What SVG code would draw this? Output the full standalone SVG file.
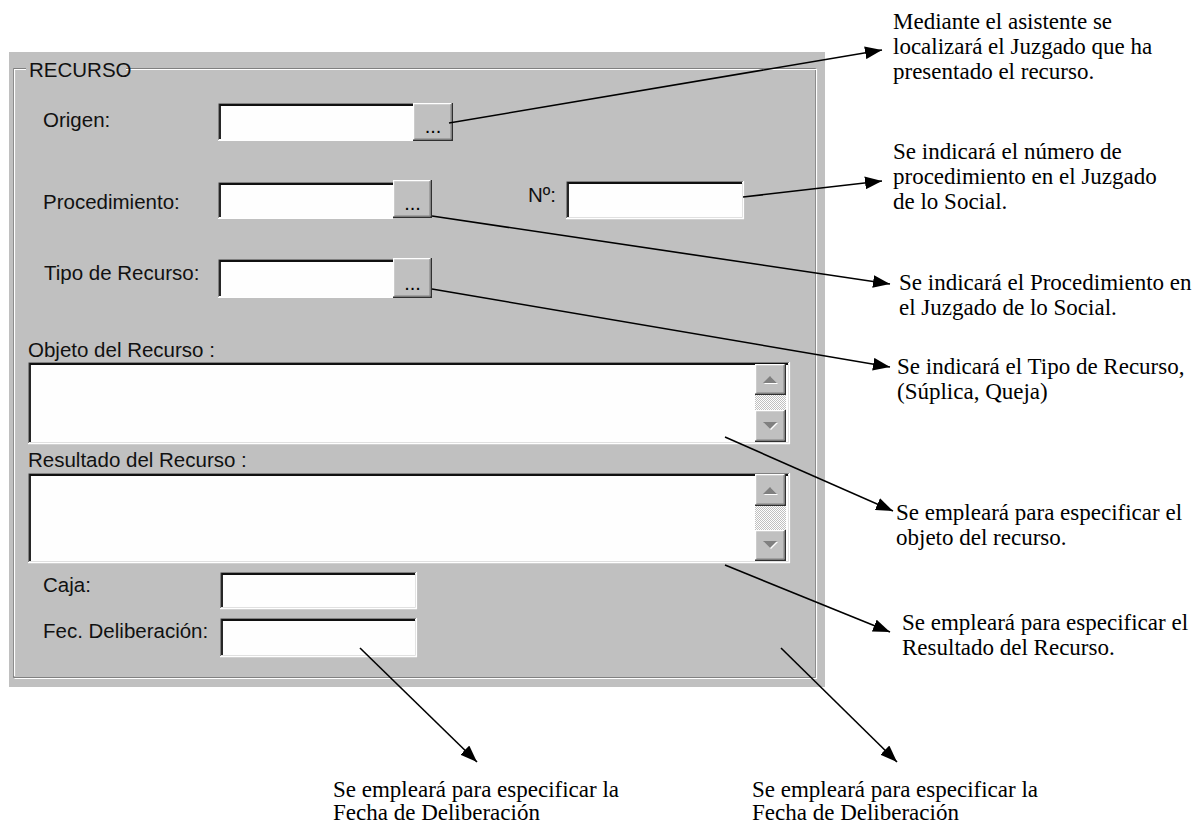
<svg xmlns="http://www.w3.org/2000/svg" width="1203" height="826" viewBox="0 0 1203 826">
<defs>
<style>
.ui{font-family:"Liberation Sans",Arial,sans-serif;font-size:20.5px;fill:#111}
.an{font-family:"Liberation Serif","Times New Roman",serif;font-size:23px;fill:#000}
.dots{font-family:"Liberation Sans",Arial,sans-serif;font-size:20px;fill:#000;text-anchor:middle}
.fld{fill:#fefefe}
.g{fill:none;stroke:#808080;stroke-width:1}
.k{fill:none;stroke:#101010;stroke-width:1.8}
.w{fill:none;stroke:#ffffff;stroke-width:1.2}
.lg{fill:none;stroke:#e0e0e0;stroke-width:1}
.btn{fill:#c0c0c0}
.bk{fill:none;stroke:#303030;stroke-width:1.4}
.conn{fill:none;stroke:#000;stroke-width:1.6}
.tri{fill:#808080}
.triw{fill:#ffffff}
</style>
<marker id="ah" viewBox="0 0 16 12" refX="16" refY="6" markerWidth="17" markerHeight="13" markerUnits="userSpaceOnUse" orient="auto">
<path d="M0,0 L16,6 L0,12 z" fill="#000"/>
</marker>
<pattern id="dith" width="2" height="2" patternUnits="userSpaceOnUse">
<rect width="2" height="2" fill="#ffffff"/>
<rect width="1" height="1" fill="#c0c0c0"/>
<rect x="1" y="1" width="1" height="1" fill="#c0c0c0"/>
</pattern>
</defs>
<rect width="1203" height="826" fill="#ffffff"/>

<g id="panel">
<rect x="9" y="52" width="816" height="635" fill="#c0c0c0"/>
<path class="g" d="M26,68.5 H13.5 V677.5 H815.5 V68.5 H126"/>
<path class="w" d="M26,69.5 H14.5 V676 M14.5,678.5 H816.5 V69.5 H126"/>
<text class="ui" x="29" y="77">RECURSO</text>
</g>

<g id="origen">
<text class="ui" x="43" y="127">Origen:</text>
<rect class="fld" x="218" y="103" width="195" height="37"/>
<path class="g" d="M218.5,140 V103.5 H413"/>
<path class="k" d="M220,139 V105 H413"/>
<path class="w" d="M218,140.4 H413"/>
<g id="btn-origen">
<rect class="btn" x="413" y="103" width="40" height="38"/>
<path class="w" d="M413.6,140 V103.6 H452"/>
<path class="bk" d="M413,140.3 H452.3 V103"/>
<path class="g" d="M414.5,139 H451 V104"/>
<text class="dots" x="433" y="133">...</text>
</g>
</g>

<g id="procedimiento">
<text class="ui" x="43" y="209">Procedimiento:</text>
<rect class="fld" x="218" y="182" width="175" height="36"/>
<path class="g" d="M218.5,218 V182.5 H393"/>
<path class="k" d="M220,217 V184 H393"/>
<path class="w" d="M218,218.4 H393"/>
<g id="btn-proc">
<rect class="btn" x="393" y="180" width="39" height="38"/>
<path class="w" d="M393.6,217 V180.6 H431"/>
<path class="bk" d="M393,217.3 H431.3 V180"/>
<path class="g" d="M394.5,216 H430 V181"/>
<text class="dots" x="412.5" y="210">...</text>
</g>
</g>

<g id="numero">
<text class="ui" x="528" y="202">Nº:</text>
<rect class="fld" x="566" y="181" width="178" height="38"/>
<path class="g" d="M566.5,219 V181.5 H744"/>
<path class="k" d="M568,218 V183 H742"/>
<path class="lg" d="M567,217.5 H742.5 V183"/>
<path class="w" d="M566,218.6 H743.5 V181"/>
</g>

<g id="tipo">
<text class="ui" x="44" y="280">Tipo de Recurso:</text>
<rect class="fld" x="218" y="259" width="175" height="38"/>
<path class="g" d="M218.5,297 V259.5 H393"/>
<path class="k" d="M220,296 V261 H393"/>
<path class="w" d="M218,297.4 H393"/>
<g id="btn-tipo">
<rect class="btn" x="393" y="258" width="39" height="40"/>
<path class="w" d="M393.6,297 V258.6 H431"/>
<path class="bk" d="M393,297.3 H431.3 V258"/>
<path class="g" d="M394.5,296 H430 V259"/>
<text class="dots" x="412.5" y="290">...</text>
</g>
</g>

<g id="objeto">
<text class="ui" x="28" y="357">Objeto del Recurso :</text>
<rect class="fld" x="28" y="362" width="762" height="82"/>
<path class="g" d="M28.5,444 V362.5 H790"/>
<path class="k" d="M30,443 V364 H788"/>
<path class="lg" d="M29,442.5 H788.5 V364"/>
<path class="w" d="M28,443.6 H789.5 V362"/>
<rect x="755" y="395" width="31" height="15" fill="url(#dith)"/>
<g id="obj-up">
<rect class="btn" x="755" y="364" width="31" height="31"/>
<path class="w" d="M755.6,394 V364.6 H785"/>
<path class="bk" d="M755,394.3 H785.3 V364"/>
<path class="g" d="M756.5,393 H784 V365"/>
<path class="triw" d="M764,384 L778,384 L771,377 z"/>
<path class="tri" d="M763,383 L777,383 L770,376 z"/>
</g>
<g id="obj-down">
<rect class="btn" x="755" y="410" width="31" height="32"/>
<path class="w" d="M755.6,441 V410.6 H785"/>
<path class="bk" d="M755,441.3 H785.3 V410"/>
<path class="g" d="M756.5,440 H784 V411"/>
<path class="triw" d="M764,423 L778,423 L771,430 z"/>
<path class="tri" d="M763,422 L777,422 L770,429 z"/>
</g>
</g>

<g id="resultado">
<text class="ui" x="28" y="467">Resultado del Recurso :</text>
<rect class="fld" x="28" y="473" width="762" height="90"/>
<path class="g" d="M28.5,563 V473.5 H790"/>
<path class="k" d="M30,562 V475 H788"/>
<path class="lg" d="M29,561.5 H788.5 V475"/>
<path class="w" d="M28,562.6 H789.5 V473"/>
<rect x="755" y="506" width="31" height="24" fill="url(#dith)"/>
<g id="res-up">
<rect class="btn" x="755" y="474" width="31" height="32"/>
<path class="w" d="M755.6,505 V474.6 H785"/>
<path class="bk" d="M755,505.3 H785.3 V474"/>
<path class="g" d="M756.5,504 H784 V475"/>
<path class="triw" d="M764,495 L778,495 L771,488 z"/>
<path class="tri" d="M763,494 L777,494 L770,487 z"/>
</g>
<g id="res-down">
<rect class="btn" x="755" y="530" width="31" height="31"/>
<path class="w" d="M755.6,560 V530.6 H785"/>
<path class="bk" d="M755,560.3 H785.3 V530"/>
<path class="g" d="M756.5,559 H784 V531"/>
<path class="triw" d="M764,542 L778,542 L771,549 z"/>
<path class="tri" d="M763,541 L777,541 L770,548 z"/>
</g>
</g>

<g id="caja">
<text class="ui" x="43" y="592">Caja:</text>
<rect class="fld" x="220" y="572" width="197" height="37"/>
<path class="g" d="M220.5,609 V572.5 H417"/>
<path class="k" d="M222,608 V574 H415"/>
<path class="lg" d="M221,607.5 H415.5 V574"/>
<path class="w" d="M220,608.6 H416.5 V572"/>
</g>

<g id="fecha">
<text class="ui" x="43" y="638">Fec. Deliberación:</text>
<rect class="fld" x="220" y="618" width="197" height="39"/>
<path class="g" d="M220.5,657 V618.5 H417"/>
<path class="k" d="M222,656 V620 H415"/>
<path class="lg" d="M221,655.5 H415.5 V620"/>
<path class="w" d="M220,656.6 H416.5 V618"/>
</g>

<g id="connectors">
<path class="conn" marker-end="url(#ah)" d="M449,123 L882,50"/>
<path class="conn" marker-end="url(#ah)" d="M743,197 L882,181"/>
<path class="conn" marker-end="url(#ah)" d="M432,216 L890,284"/>
<path class="conn" marker-end="url(#ah)" d="M432,289 L890,367"/>
<path class="conn" marker-end="url(#ah)" d="M725,437 L893,511"/>
<path class="conn" marker-end="url(#ah)" d="M725,565 L890,632"/>
<path class="conn" marker-end="url(#ah)" d="M360,648 L477,762"/>
<path class="conn" marker-end="url(#ah)" d="M781,648 L897,762"/>
</g>

<g id="note-origen">
<text class="an" x="893" y="29">Mediante el asistente se</text>
<text class="an" x="893" y="54">localizará el Juzgado que ha</text>
<text class="an" x="893" y="79">presentado el recurso.</text>
</g>
<g id="note-numero">
<text class="an" x="893" y="159">Se indicará el número de</text>
<text class="an" x="893" y="184">procedimiento en el Juzgado</text>
<text class="an" x="893" y="209">de lo Social.</text>
</g>
<g id="note-proc">
<text class="an" x="899" y="290">Se indicará el Procedimiento en</text>
<text class="an" x="899" y="315">el Juzgado de lo Social.</text>
</g>
<g id="note-tipo">
<text class="an" x="897" y="374">Se indicará el Tipo de Recurso,</text>
<text class="an" x="897" y="399">(Súplica, Queja)</text>
</g>
<g id="note-objeto">
<text class="an" x="896" y="520">Se empleará para especificar el</text>
<text class="an" x="896" y="545">objeto del recurso.</text>
</g>
<g id="note-resultado">
<text class="an" x="902" y="630">Se empleará para especificar el</text>
<text class="an" x="902" y="655">Resultado del Recurso.</text>
</g>
<g id="note-fecha1">
<text class="an" x="333" y="797">Se empleará para especificar la</text>
<text class="an" x="333" y="820">Fecha de Deliberación</text>
</g>
<g id="note-fecha2">
<text class="an" x="752" y="797">Se empleará para especificar la</text>
<text class="an" x="752" y="820">Fecha de Deliberación</text>
</g>
</svg>
